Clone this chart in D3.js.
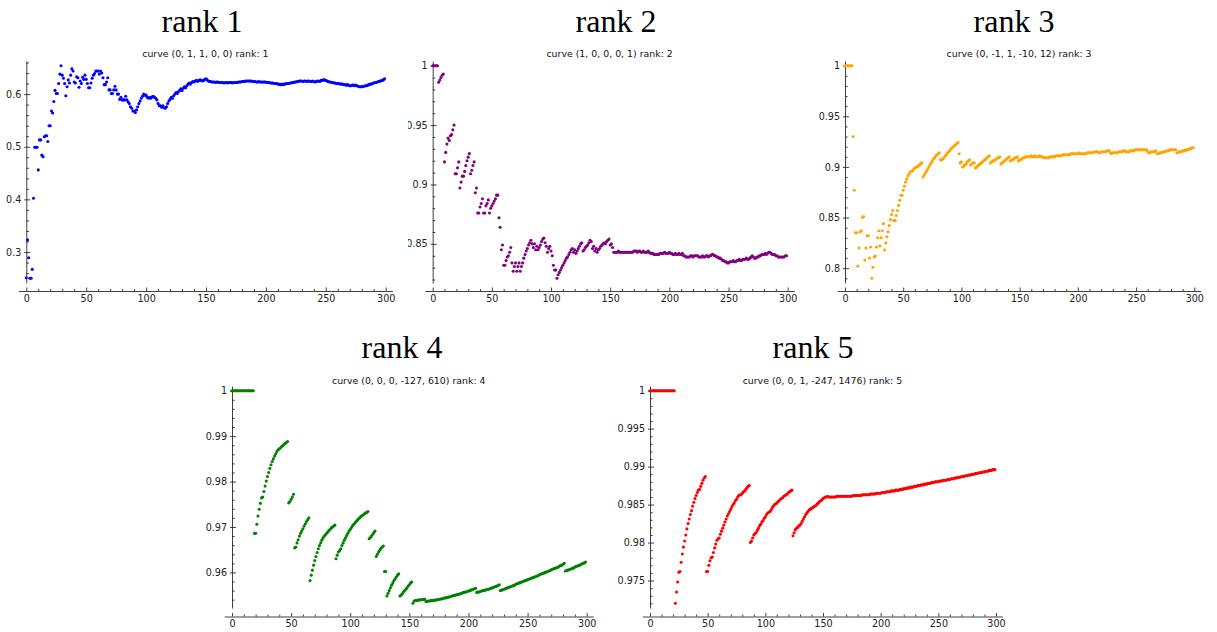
<!DOCTYPE html>
<html>
<head>
<meta charset="utf-8">
<script src="https://cdn.jsdelivr.net/npm/d3@7"></script>
<style>
  body { margin: 0; background: #fff; }
  svg { display: block; }
</style>
</head>
<body>
<svg id="chart" width="1217" height="632"></svg>
<script>
// ---- data: running ratio for each curve, one value per step 0..299 ----
const xTicks = [0, 50, 100, 150, 200, 250, 300];

const rank1Values = [
.251,.323,.289,.250,.250,.267,.402,.499,.499,.499,
.456,.513,.513,.484,.481,.519,.521,.521,.510,.540,
.540,.568,.564,.586,.607,.601,.601,.620,.638,.654,
.636,.630,.620,.597,.614,.627,.621,.636,.648,.644,
.623,.621,.633,.631,.613,.625,.620,.632,.628,.636,
.628,.620,.612,.612,.621,.630,.636,.639,.644,.644,
.644,.638,.644,.640,.631,.618,.618,.623,.631,.608,
.608,.601,.601,.608,.615,.608,.600,.600,.590,.594,
.589,.589,.589,.596,.589,.585,.582,.576,.573,.568,
.568,.565,.570,.576,.582,.587,.592,.596,.600,.598,
.598,.594,.592,.594,.592,.595,.596,.594,.592,.589,
.582,.578,.578,.575,.578,.574,.573,.576,.582,.587,
.590,.594,.592,.597,.600,.603,.601,.605,.607,.610,
.607,.611,.614,.612,.616,.619,.621,.619,.622,.624,
.623,.625,.626,.624,.626,.627,.626,.625,.626,.628,
.629,.627,.625,.624,.624,.623,.623,.623,.622,.623,
.623,.622,.622,.622,.622,.621,.622,.622,.621,.622,
.622,.622,.621,.622,.622,.622,.622,.623,.623,.623,
.624,.624,.624,.625,.625,.625,.625,.625,.625,.624,
.624,.624,.623,.623,.624,.623,.623,.623,.623,.623,
.623,.622,.622,.622,.621,.621,.621,.620,.620,.620,
.619,.619,.618,.619,.618,.619,.619,.620,.620,.620,
.621,.621,.622,.622,.623,.623,.624,.624,.625,.625,
.625,.624,.625,.625,.624,.625,.625,.624,.624,.625,
.624,.623,.624,.625,.625,.624,.626,.626,.627,.627,
.626,.625,.624,.623,.623,.622,.622,.621,.621,.620,
.620,.620,.619,.619,.619,.618,.618,.617,.618,.617,
.616,.616,.617,.617,.616,.617,.616,.615,.614,.614,
.614,.615,.615,.616,.616,.617,.618,.619,.619,.620,
.621,.622,.622,.623,.624,.625,.625,.626,.627,.629
];

const rank2Values = [
1,1,1,1,1,.986,.988,.990,.992,.993,
.919,.927,.934,.939,.937,.941,.942,.946,.950,.909,
.909,.914,.919,.897,.902,.907,.907,.911,.916,.920,
.923,.926,.909,.912,.916,.919,.893,.897,.876,.876,
.881,.884,.888,.876,.876,.882,.884,.887,.876,.880,
.882,.884,.886,.888,.891,.891,.872,.864,.845,.849,
.832,.832,.836,.839,.840,.843,.847,.834,.827,.831,
.834,.827,.831,.834,.827,.831,.834,.838,.841,.844,
.846,.849,.851,.853,.850,.847,.850,.845,.848,.845,
.847,.849,.852,.854,.855,.851,.848,.843,.846,.848,
.844,.840,.832,.828,.828,.821,.824,.826,.828,.830,
.832,.834,.836,.838,.839,.841,.843,.845,.846,.843,
.845,.842,.844,.846,.848,.850,.851,.844,.845,.847,
.848,.849,.851,.853,.852,.846,.848,.844,.846,.843,
.845,.846,.848,.849,.850,.851,.850,.852,.853,.854,
.849,.850,.847,.843,.843,.843,.843,.844,.843,.843,
.843,.843,.843,.843,.843,.843,.843,.843,.843,.843,
.844,.844,.844,.843,.844,.844,.843,.843,.844,.843,
.843,.843,.844,.843,.842,.842,.842,.841,.841,.841,
.841,.841,.842,.842,.842,.842,.843,.842,.842,.842,
.843,.842,.842,.841,.841,.842,.841,.841,.842,.841,
.841,.842,.840,.840,.839,.839,.839,.839,.840,.840,
.839,.840,.840,.840,.840,.839,.839,.839,.840,.839,
.839,.840,.840,.839,.840,.840,.841,.841,.840,.840,
.839,.839,.838,.838,.837,.836,.836,.835,.835,.834,
.834,.835,.835,.835,.836,.835,.835,.836,.836,.837,
.836,.836,.837,.837,.837,.838,.837,.837,.838,.839,
.840,.839,.838,.838,.839,.839,.840,.840,.841,.841,
.841,.842,.841,.842,.843,.843,.842,.841,.841,.841,
.840,.840,.839,.839,.839,.839,.839,.839,.840,.840
];

const rank3Values = [
1,1,1,1,1,1,1,.930,.877,.835,
.835,.802,.820,.836,.837,.850,.851,.808,.820,.832,
.832,.810,.821,.790,.801,.811,.812,.821,.830,.837,
.822,.830,.837,.844,.818,.825,.831,.836,.842,.848,
.853,.857,.847,.847,.852,.857,.862,.867,.872,.872,
.877,.881,.885,.888,.891,.893,.895,.896,.896,.898,
.899,.900,.900,.901,.902,.903,.904,.890,.892,.894,
.896,.898,.900,.902,.904,.906,.908,.909,.911,.912,
.913,.914,.907,.907,.908,.909,.911,.912,.914,.915,
.916,.918,.919,.920,.921,.922,.923,.924,.913,.904,
.905,.900,.901,.902,.903,.905,.906,.907,.902,.903,
.904,.904,.899,.900,.901,.902,.903,.904,.905,.906,
.907,.908,.909,.910,.911,.904,.905,.906,.906,.907,
.908,.909,.909,.910,.903,.904,.905,.906,.907,.908,
.909,.910,.906,.907,.907,.908,.909,.909,.910,.906,
.907,.907,.908,.909,.909,.910,.910,.910,.910,.910,
.911,.910,.910,.911,.910,.910,.910,.911,.910,.910,
.910,.909,.909,.909,.909,.909,.910,.910,.910,.910,
.910,.911,.911,.911,.911,.911,.911,.912,.912,.912,
.912,.912,.912,.912,.913,.913,.913,.913,.913,.913,
.913,.914,.913,.913,.913,.913,.913,.913,.914,.914,
.914,.914,.914,.914,.915,.915,.915,.915,.914,.914,
.915,.915,.915,.915,.915,.916,.916,.916,.914,.913,
.914,.914,.914,.914,.914,.915,.915,.915,.915,.916,
.916,.915,.915,.915,.915,.916,.916,.916,.916,.917,
.917,.917,.917,.917,.917,.917,.917,.917,.917,.917,
.915,.914,.914,.915,.915,.915,.915,.916,.913,.913,
.914,.914,.914,.915,.915,.915,.916,.916,.916,.917,
.917,.917,.917,.917,.917,.914,.914,.915,.915,.915,
.916,.916,.916,.917,.917,.917,.918,.918,.919,.919
];

const rank4Values = [
1,1,1,1,1,1,1,1,1,1,
1,1,1,1,1,1,1,1,1,.9686,
.9686,.9706,.9724,.9739,.9752,.9764,.9766,.9778,.9790,.9801,
.9811,.9820,.9829,.9837,.9844,.9850,.9856,.9861,.9866,.9870,
.9872,.9874,.9877,.9879,.9882,.9884,.9886,.9888,.9753,.9756,
.9761,.9766,.9772,.9654,.9656,.9665,.9672,.9680,.9686,.9691,
.9696,.9702,.9707,.9712,.9716,.9720,.9582,.9594,.9605,.9616,
.9626,.9635,.9644,.9652,.9659,.9665,.9671,.9676,.9680,.9683,
.9686,.9689,.9692,.9695,.9698,.9700,.9702,.9704,.9630,.9638,
.9645,.9648,.9652,.9659,.9665,.9671,.9676,.9681,.9686,.9691,
.9695,.9699,.9703,.9706,.9709,.9712,.9715,.9718,.9720,.9723,
.9725,.9727,.9729,.9731,.9732,.9734,.9674,.9677,.9680,.9684,
.9688,.9691,.9635,.9640,.9645,.9649,.9653,.9656,.9658,.9602,
.9602,.9548,.9554,.9560,.9566,.9572,.9577,.9582,.9586,.9590,
.9594,.9597,.9548,.9550,.9553,.9557,.9560,.9563,.9566,.9570,
.9573,.9577,.9579,.9532,.9537,.9538,.9538,.9539,.9539,.9540,
.9540,.9540,.9541,.9541,.9536,.9536,.9537,.9537,.9538,.9538,
.9538,.9539,.9539,.9540,.9540,.9541,.9541,.9542,.9542,.9543,
.9544,.9544,.9545,.9546,.9546,.9547,.9548,.9549,.9549,.9550,
.9551,.9552,.9552,.9553,.9554,.9555,.9556,.9557,.9557,.9558,
.9559,.9560,.9561,.9562,.9563,.9564,.9565,.9556,.9557,.9557,
.9558,.9559,.9560,.9560,.9561,.9562,.9563,.9563,.9564,.9565,
.9566,.9567,.9568,.9569,.9570,.9571,.9573,.9560,.9561,.9562,
.9563,.9564,.9565,.9566,.9567,.9568,.9569,.9570,.9571,.9572,
.9574,.9575,.9576,.9577,.9578,.9579,.9580,.9581,.9582,.9583,
.9584,.9585,.9586,.9587,.9588,.9589,.9590,.9591,.9592,.9593,
.9595,.9596,.9597,.9598,.9599,.9600,.9601,.9602,.9603,.9604,
.9606,.9607,.9608,.9609,.9610,.9611,.9612,.9614,.9615,.9616,
.9618,.9620,.9603,.9604,.9605,.9606,.9607,.9608,.9609,.9610,
.9612,.9613,.9614,.9615,.9616,.9617,.9619,.9620,.9621,.9623
];

const rank5Values = [
1,1,1,1,1,1,1,1,1,1,
1,1,1,1,1,1,1,1,1,1,
1,1,.9720,.9735,.9748,.9761,.9762,.9774,.9785,.9794,
.9802,.9810,.9818,.9825,.9831,.9837,.9842,.9848,.9853,.9858,
.9862,.9866,.9869,.9870,.9874,.9878,.9882,.9885,.9887,.9762,
.9762,.9770,.9776,.9780,.9781,.9787,.9793,.9798,.9803,.9805,
.9806,.9811,.9815,.9819,.9823,.9827,.9831,.9835,.9838,.9841,
.9844,.9847,.9850,.9852,.9855,.9857,.9860,.9862,.9863,.9863,
.9865,.9867,.9868,.9870,.9872,.9874,.9875,.9800,.9802,.9806,
.9810,.9812,.9813,.9816,.9819,.9822,.9824,.9827,.9829,.9832,
.9834,.9837,.9839,.9840,.9841,.9843,.9846,.9848,.9850,.9851,
.9852,.9854,.9855,.9857,.9858,.9859,.9861,.9862,.9863,.9864,
.9866,.9867,.9868,.9869,.9809,.9813,.9817,.9819,.9820,.9822,
.9823,.9825,.9828,.9831,.9834,.9837,.9839,.9841,.9843,.9844,
.9845,.9846,.9847,.9848,.9849,.9851,.9852,.9854,.9855,.9856,
.9858,.9859,.9860,.9860,.9861,.9860,.9860,.9860,.9860,.9860,
.9860,.9860,.9861,.9861,.9861,.9861,.9861,.9861,.9861,.9861,
.9861,.9861,.9861,.9861,.9861,.9861,.9862,.9862,.9862,.9862,
.9862,.9862,.9862,.9862,.9863,.9863,.9863,.9863,.9863,.9863,
.9863,.9864,.9864,.9864,.9864,.9864,.9865,.9865,.9865,.9865,
.9865,.9866,.9866,.9866,.9866,.9867,.9867,.9867,.9867,.9868,
.9868,.9868,.9868,.9869,.9869,.9869,.9869,.9870,.9870,.9870,
.9871,.9871,.9871,.9872,.9872,.9872,.9873,.9873,.9873,.9874,
.9874,.9874,.9875,.9875,.9875,.9876,.9876,.9876,.9877,.9877,
.9877,.9878,.9878,.9878,.9879,.9879,.9879,.9880,.9880,.9880,
.9880,.9881,.9881,.9881,.9882,.9882,.9882,.9882,.9883,.9883,
.9883,.9884,.9884,.9884,.9885,.9885,.9885,.9886,.9886,.9886,
.9887,.9887,.9887,.9888,.9888,.9888,.9889,.9889,.9889,.9890,
.9890,.9890,.9891,.9891,.9891,.9892,.9892,.9892,.9893,.9893,
.9893,.9894,.9894,.9894,.9895,.9895,.9895,.9896,.9896,.9896
];

const yTicks1 = [0.3, 0.4, 0.5, 0.6];
const yTicks2 = [0.85, 0.9, 0.95, 1];
const yTicks3 = [0.8, 0.85, 0.9, 0.95, 1];
const yTicks4 = [0.96, 0.97, 0.98, 0.99, 1];
const yTicks5 = [0.975, 0.98, 0.985, 0.99, 0.995, 1];

const headings = ["rank 1", "rank 2", "rank 3", "rank 4", "rank 5"];
const captions = [
  "curve (0, 1, 1, 0, 0) rank: 1",
  "curve (1, 0, 0, 0, 1) rank: 2",
  "curve (0, -1, 1, -10, 12) rank: 3",
  "curve (0, 0, 0, -127, 610) rank: 4",
  "curve (0, 0, 1, -247, 1476) rank: 5"
];

// ---- layout ----
const rows = [
  { headingY: 32, captionY: 56.5, top: 61, bottom: 283, axisY: 291 },
  { headingY: 358, captionY: 383.5, top: 386, bottom: 608, axisY: 616.5 }
];

const panels = [
  { values: rank1Values, yTicks: yTicks1, minor: 0.02,  color: "#0000ff", row: 0, x0: 26.3,  x300: 385.7,  headingX: 202,  clipLeft: null },
  { values: rank2Values, yTicks: yTicks2, minor: 0.01,  color: "#800080", row: 0, x0: 432.7, x300: 787.7,  headingX: 616,  clipLeft: 408 },
  { values: rank3Values, yTicks: yTicks3, minor: 0.01,  color: "#ffa500", row: 0, x0: 845,   x300: 1194.3, headingX: 1014, clipLeft: null },
  { values: rank4Values, yTicks: yTicks4, minor: 0.002, color: "#008000", row: 1, x0: 232,   x300: 586.7,  headingX: 402,  clipLeft: null },
  { values: rank5Values, yTicks: yTicks5, minor: 0.001, color: "#ff0000", row: 1, x0: 650,   x300: 996,    headingX: 813,  clipLeft: null }
];

const axisColor = "#2a2a2a";
const fmt = d3.format("~g");
const svg = d3.select("#chart");

panels.forEach((p, idx) => {
  const row = rows[p.row];
  let g = svg.append("g");
  if (p.clipLeft !== null) {
    const id = "clip" + idx;
    svg.append("defs").append("clipPath").attr("id", id)
      .append("rect").attr("x", p.clipLeft).attr("y", 0).attr("width", 1217).attr("height", 632);
    g.attr("clip-path", `url(#${id})`);
  }

  const n = p.values.length;
  const xPad = 0.022 * (n - 1);
  const k = (p.x300 - p.x0) / 300;
  const x = d3.scaleLinear()
    .domain([-xPad, n - 1 + xPad])
    .range([p.x0 - k * xPad, p.x0 + k * (n - 1 + xPad)]);

  const [lo, hi] = d3.extent(p.values);
  const yPad = 0.022 * (hi - lo);
  const y = d3.scaleLinear().domain([lo - yPad, hi + yPad]).range([row.bottom, row.top]);

  // headings
  svg.append("text")
    .attr("x", p.headingX).attr("y", row.headingY)
    .attr("text-anchor", "middle")
    .style("font-family", "'Liberation Serif', 'Times New Roman', serif")
    .style("font-size", "32px").style("fill", "#000")
    .text(headings[idx]);

  const xr = x.range();
  g.append("text")
    .attr("x", (xr[0] + xr[1]) / 2).attr("y", row.captionY)
    .attr("text-anchor", "middle")
    .style("font-family", "'DejaVu Sans', sans-serif")
    .style("font-size", "9.4px").style("fill", "#111")
    .text(captions[idx]);

  // x axis (bottom, ticks pointing up)
  g.append("g").attr("transform", `translate(0,${row.axisY})`)
    .call(d3.axisBottom(x).tickValues(xTicks).tickFormat(d3.format("d"))
      .tickSizeInner(-3.5).tickSizeOuter(0).tickPadding(4));
  const xMinor = d3.range(0, 301, 10).filter(v => v % 50 !== 0);
  g.append("g").attr("transform", `translate(0,${row.axisY})`)
    .call(d3.axisBottom(x).tickValues(xMinor).tickFormat("")
      .tickSizeInner(-2).tickSizeOuter(0))
    .select(".domain").remove();

  // y axis placed at x = 0
  const yAxisG = g.append("g").attr("transform", `translate(${x(0)},0)`)
    .call(d3.axisLeft(y).tickValues(p.yTicks).tickFormat(fmt)
      .tickSizeInner(-4).tickSizeOuter(0).tickPadding(5));
  yAxisG.selectAll(".tick line").attr("x1", -2);
  const yd = y.domain();
  const minorVals = d3.range(Math.ceil(yd[0] / p.minor), Math.floor(yd[1] / p.minor) + 1)
    .map(i => +(i * p.minor).toFixed(5))
    .filter(v => !p.yTicks.some(t => Math.abs(t - v) < p.minor / 10));
  g.append("g").attr("transform", `translate(${x(0)},0)`)
    .call(d3.axisLeft(y).tickValues(minorVals).tickFormat("")
      .tickSizeInner(-2.6).tickSizeOuter(0))
    .select(".domain").remove();

  g.selectAll(".domain, .tick line").attr("stroke", axisColor).attr("stroke-width", 0.9);
  g.selectAll(".tick text")
    .style("font-family", "'DejaVu Sans', sans-serif")
    .style("font-size", "9.6px").attr("fill", "#222");

  // points
  g.append("g").selectAll("circle")
    .data(p.values)
    .join("circle")
    .attr("cx", (d, i) => x(i))
    .attr("cy", d => y(d))
    .attr("r", 1.55)
    .attr("fill", p.color);
});
</script>
</body>
</html>
